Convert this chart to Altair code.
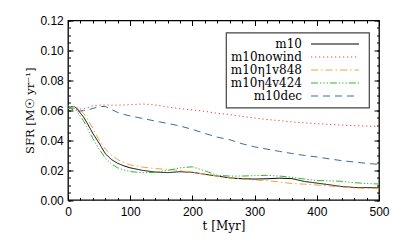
import altair as alt
import pandas as pd

t = [0, 5, 10, 15, 20, 25, 30, 40, 50, 60, 70, 80, 90, 100, 120, 140, 160, 180,
     200, 220, 240, 260, 280, 300, 320, 340, 360, 380, 400, 420, 440, 460, 480, 500]

m10 = [0.0605, 0.0625, 0.0625, 0.0610, 0.0580, 0.0555, 0.0520, 0.0445, 0.0380, 0.0310,
       0.0270, 0.0245, 0.0228, 0.0215, 0.0198, 0.0187, 0.0183, 0.0189, 0.0185, 0.0172,
       0.0160, 0.0148, 0.0142, 0.0140, 0.0142, 0.0146, 0.0143, 0.0124, 0.0113, 0.0102,
       0.0090, 0.0084, 0.0083, 0.0082]
m10nowind = [0.0612, 0.0610, 0.0608, 0.0606, 0.0608, 0.0610, 0.0615, 0.0630, 0.0634, 0.0635,
             0.0634, 0.0634, 0.0635, 0.0637, 0.0642, 0.0636, 0.0622, 0.0610, 0.0602, 0.0593,
             0.0580, 0.0571, 0.0559, 0.0548, 0.0538, 0.0531, 0.0522, 0.0516, 0.0510, 0.0505,
             0.0501, 0.0497, 0.0494, 0.0492]
m10eta1 = [0.0610, 0.0620, 0.0625, 0.0620, 0.0600, 0.0580, 0.0550, 0.0480, 0.0400, 0.0340,
           0.0300, 0.0270, 0.0250, 0.0235, 0.0220, 0.0210, 0.0205, 0.0198, 0.0185, 0.0173,
           0.0160, 0.0148, 0.0140, 0.0133, 0.0130, 0.0120, 0.0110, 0.0106, 0.0100, 0.0094,
           0.0087, 0.0080, 0.0078, 0.0078]
m10eta4 = [0.0610, 0.0615, 0.0615, 0.0590, 0.0560, 0.0530, 0.0490, 0.0410, 0.0340, 0.0280,
           0.0240, 0.0215, 0.0200, 0.0190, 0.0182, 0.0185, 0.0198, 0.0215, 0.0222, 0.0195,
           0.0165, 0.0160, 0.0160, 0.0163, 0.0165, 0.0160, 0.0152, 0.0140, 0.0130, 0.0128,
           0.0125, 0.0116, 0.0110, 0.0107]
m10dec = [0.0635, 0.0610, 0.0600, 0.0594, 0.0595, 0.0598, 0.0600, 0.0612, 0.0625, 0.0625,
          0.0605, 0.0585, 0.0572, 0.0562, 0.0545, 0.0528, 0.0512, 0.0495, 0.0472, 0.0445,
          0.0420, 0.0403, 0.0376, 0.0355, 0.0340, 0.0325, 0.0311, 0.0298, 0.0288, 0.0275,
          0.0263, 0.0254, 0.0245, 0.0238]

series_names = ["m10", "m10nowind", "m10\u03b71v848", "m10\u03b74v424", "m10dec"]
series_values = [m10, m10nowind, m10eta1, m10eta4, m10dec]
colors = ["#000000", "#e8413a", "#f0a23c", "#2fb52f", "#3b6c9a"]
dashes = [[1, 0], [1.2, 2.8], [7, 3, 1.5, 3], [7, 2, 1.3, 2, 1.3, 2, 1.3, 2], [7, 5]]

x_major = [0, 100, 200, 300, 400, 500]
x_minor = list(range(0, 501, 20))
y_major = [0.0, 0.02, 0.04, 0.06, 0.08, 0.10, 0.12]
y_minor = [i * 0.005 for i in range(25)]

rows = []
for name, vals in zip(series_names, series_values):
    for tt, v in zip(t, vals):
        rows.append({"t": tt, "sfr": v, "series": name})
df = pd.DataFrame(rows)

xs = alt.Scale(domain=[0, 500], nice=False, zero=False)
ys = alt.Scale(domain=[0, 0.12], nice=False, zero=False)

SANS = "Liberation Sans"
SERIF = "DejaVu Serif"


def axis(orient, values, size, labels=False, title=None, **kw):
    return alt.Axis(orient=orient, values=values, tickSize={"expr": str(-size)},
                    labels=labels, title=title, domain=False, grid=False,
                    tickColor="black", tickWidth=1, **kw)


legend = alt.Legend(
    title=None, orient="none", legendX=158, legendY=12,
    symbolType="M-4,0H4M4.4,0", symbolSize=144, symbolStrokeWidth=1,
    symbolOffset=97.5,
    labelAlign="right", labelOffset={"expr": "-39.5"}, labelFont=SERIF, labelFontSize=12,
    labelColor="black", rowPadding=0, padding=5,
    strokeColor="#444444", fillColor="white", labelLimit=200,
)

color = alt.Color("series:N", scale=alt.Scale(domain=series_names, range=colors), legend=legend)
dash = alt.StrokeDash("series:N", scale=alt.Scale(domain=series_names, range=dashes), legend=legend)

lines = alt.Chart(df).mark_line(strokeWidth=1, clip=True).encode(
    x=alt.X("t:Q", scale=xs, axis=axis("bottom", x_major, 5, labels=True, title="t [Myr]",
                                       labelPadding=11, labelFont=SANS, labelFontSize=12,
                                       labelColor="black", titleFont=SERIF, titleFontSize=12,
                                       titleFontWeight="normal", titlePadding=3, titleColor="black",
                                       format="d", labelFlush=False)),
    y=alt.Y("sfr:Q", scale=ys, axis=axis("left", y_major, 5, labels=True,
                                         title="SFR [M\u2609 yr\u207b\u00b9]",
                                         labelPadding=9.7, labelFont=SANS, labelFontSize=12,
                                         labelColor="black", titleFont=SERIF, titleFontSize=11.5,
                                         titleFontWeight="normal", titlePadding=4, titleColor="black",
                                         format=".2f", labelFlush=False)),
    color=color,
    strokeDash=dash,
    order=alt.Order("ord:Q"),
).transform_calculate(ord="datum.series == 'm10' ? 10 : 0")


def ghost(xo, yo, xv, yv, size):
    return alt.Chart(df).mark_point(opacity=0, size=1).encode(
        x=alt.X("t:Q", scale=xs, axis=axis(xo, xv, size)),
        y=alt.Y("sfr:Q", scale=ys, axis=axis(yo, yv, size)),
    )


chart = alt.layer(
    lines,
    ghost("bottom", "left", x_minor, y_minor, 2.5),
    ghost("top", "right", x_major, y_major, 5),
    ghost("top", "right", x_minor, y_minor, 2.5),
).resolve_axis(x="independent", y="independent").properties(
    width=311, height=179.5,
    autosize=alt.AutoSizeParams(type="none"),
    padding={"left": 60, "top": 12.5, "right": 12, "bottom": 37},
).configure_view(stroke="black", strokeWidth=1.3).configure_legend(strokeWidth=1.2)

chart.save("out.html", embed_options={"renderer": "svg", "actions": False})
